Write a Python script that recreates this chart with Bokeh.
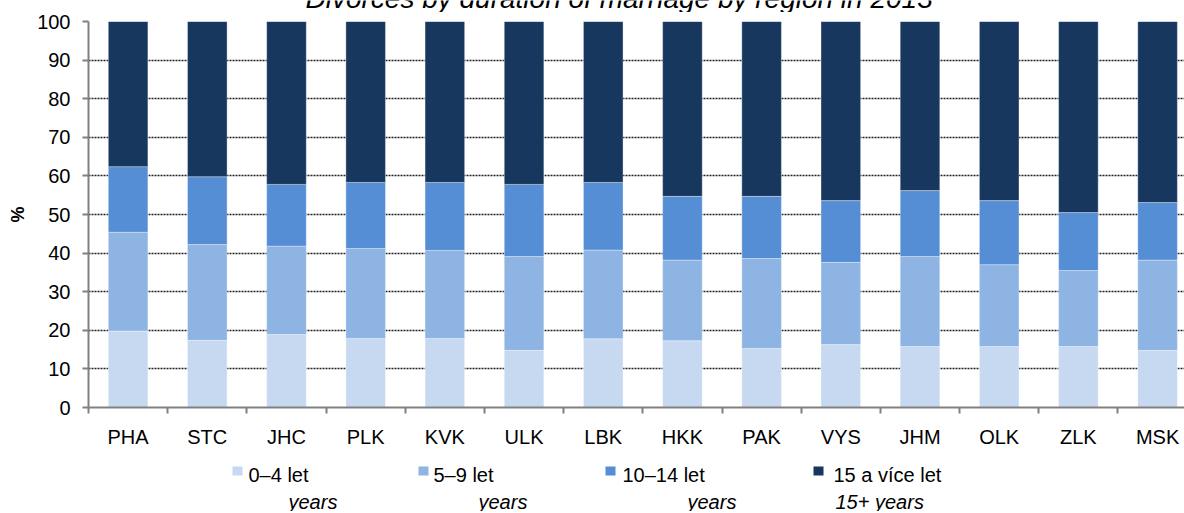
from bokeh.plotting import figure
from bokeh.layouts import column
from bokeh.models import Range1d, FixedTicker, Label, BoxAnnotation, ColumnDataSource
from bokeh.embed import file_html
from bokeh.resources import INLINE

regions = ["PHA", "STC", "JHC", "PLK", "KVK", "ULK", "LBK", "HKK", "PAK", "VYS", "JHM", "OLK", "ZLK", "MSK"]
d0_4 = [19.8, 17.4, 18.9, 17.9, 17.9, 14.8, 17.8, 17.3, 15.3, 16.3, 15.8, 15.8, 15.8, 14.8]
d5_9 = [25.6, 24.8, 22.9, 23.3, 22.8, 24.3, 23.0, 20.9, 23.3, 21.3, 23.3, 21.2, 19.7, 23.4]
d10_14 = [17.0, 17.6, 16.0, 17.1, 17.6, 18.7, 17.5, 16.5, 16.1, 16.0, 17.1, 16.6, 15.0, 14.9]
d15p = [37.6, 40.2, 42.2, 41.7, 41.7, 42.2, 41.7, 45.3, 45.3, 46.4, 43.8, 46.4, 49.5, 46.9]

series_keys = ["d0_4", "d5_9", "d10_14", "d15p"]
legend_cz = ["0–4 let", "5–9 let", "10–14 let", "15 a více let"]
legend_en = ["years", "years", "years", "15+ years"]
colors = ["#C6D9F1", "#8DB4E2", "#558ED5", "#17375E"]
y_ticks = [0, 10, 20, 30, 40, 50, 60, 70, 80, 90, 100]
title_text = "Divorces  by duration  of marriage  by region  in 2013"

FONT = "Liberation Sans"
W = 1184


def strip(height):
    s = figure(width=W, height=height, output_backend="svg", toolbar_location=None, title=None,
               x_range=Range1d(0, 1), y_range=Range1d(0, 1),
               x_axis_location=None, y_axis_location=None,
               min_border_left=0, min_border_right=0, min_border_top=0, min_border_bottom=0)
    s.outline_line_color = None
    s.grid.visible = False
    return s


# title strip: only the lower part of the title shows, as in the reference
top = strip(12)
top.add_layout(Label(x=217, y=14, x_units="screen", y_units="screen", text=title_text,
                     text_font=FONT, text_font_size="28px", text_font_style="italic",
                     text_color="black", text_baseline="alphabetic"))

xs = [i + 0.5 for i in range(len(regions))]
source = ColumnDataSource(dict(x=xs, d0_4=d0_4, d5_9=d5_9, d10_14=d10_14, d15p=d15p))

p = figure(width=W, height=443, output_backend="svg", toolbar_location=None,
           title=None, x_range=Range1d(0, 13.84), y_range=Range1d(0, 100),
           min_border_left=88, min_border_right=0, min_border_top=9, min_border_bottom=48)
p.outline_line_color = None

p.vbar_stack(series_keys, x="x", width=0.5, source=source, color=colors,
             line_color="white", line_alpha=0.35, line_width=1)

# y axis
yax = p.yaxis[0]
yax.ticker = FixedTicker(ticks=y_ticks)
yax.axis_line_color = "#808080"
yax.axis_line_width = 2
yax.major_tick_line_color = "#808080"
yax.major_tick_line_width = 2
yax.major_tick_out = 6
yax.major_tick_in = 0
yax.minor_tick_line_color = None
yax.major_label_text_font = FONT
yax.major_label_text_font_size = "20px"
yax.major_label_text_color = "black"
yax.major_label_standoff = 12
yax.axis_label = "%"
yax.axis_label_text_font = FONT
yax.axis_label_text_font_size = "18px"
yax.axis_label_text_font_style = "bold"
yax.axis_label_text_color = "black"
yax.axis_label_standoff = 6

# x axis
xax = p.xaxis[0]
xax.ticker = FixedTicker(ticks=xs, minor_ticks=list(range(len(regions) + 1)))
xax.major_label_overrides = {x: r for x, r in zip(xs, regions)}
xax.axis_line_color = "#808080"
xax.axis_line_width = 2
xax.major_tick_line_color = None
xax.major_tick_out = 0
xax.major_tick_in = 0
xax.minor_tick_line_color = "#808080"
xax.minor_tick_line_width = 2
xax.minor_tick_out = 6
xax.minor_tick_in = 0
xax.major_label_text_font = FONT
xax.major_label_text_font_size = "20px"
xax.major_label_text_color = "black"
xax.major_label_standoff = 12

# grid
p.xgrid.grid_line_color = None
p.ygrid.ticker = FixedTicker(ticks=y_ticks[1:])
p.ygrid.grid_line_color = "#222222"
p.ygrid.grid_line_dash = "2 1"
p.ygrid.grid_line_width = 1.5

# legend strip below the chart (its frame is aligned with the chart frame)
lg = strip(56)
sq_left = [144, 330, 517, 725]
cz_x = [160, 345, 534, 745]
en_x = [200, 390, 599, 747]
for i in range(4):
    lg.add_layout(BoxAnnotation(left=sq_left[i], right=sq_left[i] + 10, top=45, bottom=36,
                                left_units="screen", right_units="screen",
                                top_units="screen", bottom_units="screen",
                                fill_color=colors[i], fill_alpha=1, line_color=None))
    lg.add_layout(Label(x=cz_x[i], y=37, x_units="screen", y_units="screen", text=legend_cz[i],
                        text_font=FONT, text_font_size="20px", text_color="black",
                        text_baseline="alphabetic"))
    lg.add_layout(Label(x=en_x[i], y=10, x_units="screen", y_units="screen", text=legend_en[i],
                        text_font=FONT, text_font_size="20px", text_font_style="italic",
                        text_color="black", text_baseline="alphabetic"))

layout = column(top, p, lg, spacing=0)
open("out.html", "w").write(file_html(layout, INLINE))
